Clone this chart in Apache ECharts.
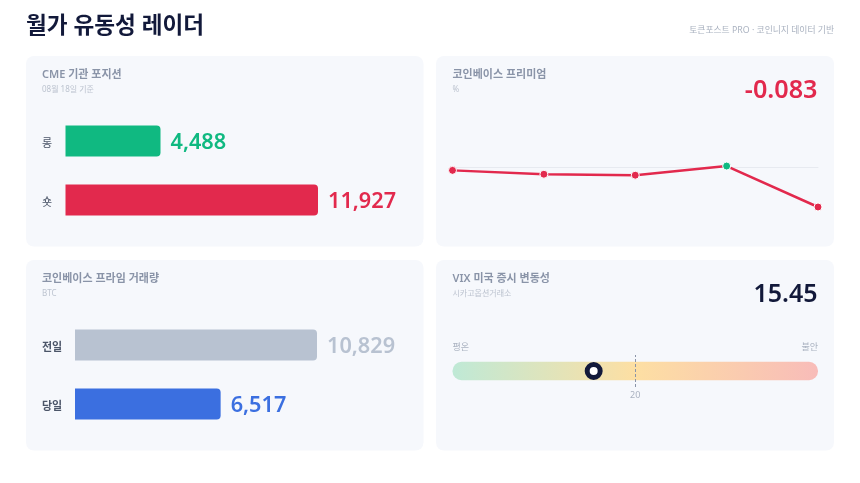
<!DOCTYPE html>
<html>
<head>
<meta charset="UTF-8">
<title>월가 유동성 레이더</title>
<style>
    html, body { margin: 0; padding: 0; background: #fff; }
    #chartArea { width: 860px; height: 483px; }
</style>
</head>
<body>
<div id="chartArea"></div>
<script src="https://cdn.jsdelivr.net/npm/echarts@6/dist/echarts.min.js"></script>
<script>
// data
var cmeLabels = ['롱', '숏'];
var cmeValues = [4488, 11927];
var primeLabels = ['전일', '당일'];
var primeValues = [10829, 6517];
var premiumDays = ['1', '2', '3', '4', '5'];
var premiumValues = [-0.007, -0.015, -0.017, 0.002, -0.083];
var vixValue = 15.45;
var vixMax = 40;
var vixTicks = [20];

var FONT = '"Noto Sans", "Noto Sans CJK KR", sans-serif';
var RED = '#e2294d', GREEN = '#10b981', BLUE = '#3b6fe0', SLATE = '#b8c2d1', DARK = '#12193a';

function card(x, y, w, h) {
    return { type: 'rect', z: -10, silent: true, shape: { x: x, y: y, width: w, height: h, r: 8 }, style: { fill: '#f6f8fc' } };
}
function txt(x, y, text, size, color, weight, align) {
    return {
        type: 'text', x: x, y: y, silent: true,
        style: { text: text, fontFamily: FONT, fontSize: size, fill: color, fontWeight: weight || 400, align: align || 'left', verticalAlign: 'middle' }
    };
}
function fmt(v) {
    return v.toLocaleString('en-US');
}

// horizontal bar panel, one grid + its axes + one series
function barParts(idx, labels, values, colors, left, top, width, labelSize, labelWeight) {
    return {
        grid: { left: left, top: top, width: width, height: 118 },
        xAxis: { gridIndex: idx, type: 'value', min: 0, max: Math.max.apply(null, values), show: false },
        yAxis: {
            gridIndex: idx, type: 'category', inverse: true, data: labels,
            axisLine: { show: false }, axisTick: { show: false },
            // top align + short line box pushes the label a bit under the bar centre
            axisLabel: { align: 'left', margin: left - 42, verticalAlign: 'top', lineHeight: 6, fontFamily: FONT, fontSize: labelSize, fontWeight: labelWeight, color: '#4b5568' }
        },
        series: {
            type: 'bar', xAxisIndex: idx, yAxisIndex: idx, barWidth: 31, silent: true,
            data: values.map(function (v, i) {
                return {
                    value: v,
                    itemStyle: { color: colors[i], borderRadius: [0, 4, 4, 0] },
                    label: { color: colors[i] }
                };
            }),
            label: {
                show: true, position: 'right', distance: 10, offset: [0, 1.5], fontFamily: FONT, fontSize: 21.7, fontWeight: 600,
                formatter: function (p) { return fmt(p.value); }
            }
        }
    };
}

var cme = barParts(0, cmeLabels, cmeValues, [GREEN, RED], 65.5, 111.5, 252.5, 11, 400);
var prime = barParts(1, primeLabels, primeValues, [SLATE, BLUE], 75, 315.5, 242, 11, 600);

var myChart = echarts.init(document.getElementById('chartArea'));
myChart.setOption({
    animation: false,
    backgroundColor: '#ffffff',
    graphic: [
        card(26, 56, 397.5, 190.5), card(436, 56, 398, 190.5),
        card(26, 260, 397.5, 190.5), card(436, 260, 398, 190.5),
        txt(26, 27, '월가 유동성 레이더', 22.6, '#12193a', 600),
        txt(834, 30.5, '토큰포스트 PRO · 코인니지 데이터 기반', 8.8, '#aab2c0', 400, 'right'),
        txt(42, 74.5, 'CME 기관 포지션', 11, '#8a94a8', 600),
        txt(42, 90, '08월 18일 기준', 8, '#bcc3cf'),
        txt(452.5, 74.5, '코인베이스 프리미엄', 11, '#8a94a8', 600),
        txt(452.5, 90, '%', 8, '#bcc3cf'),
        txt(817.5, 90.5, String(premiumValues[4]), 25.2, RED, 600, 'right'),
        txt(42, 278.5, '코인베이스 프라임 거래량', 11, '#8a94a8', 600),
        txt(42, 294, 'BTC', 8, '#bcc3cf'),
        txt(452.5, 278.5, 'VIX 미국 증시 변동성', 11, '#8a94a8', 600),
        txt(452.5, 294, '시카고옵션거래소', 8, '#bcc3cf'),
        txt(817.5, 294.5, String(vixValue), 25, DARK, 600, 'right'),
        txt(452.5, 347.5, '평온', 9, '#aab2c0'),
        txt(818, 347.5, '불안', 9, '#aab2c0', 400, 'right')
    ],
    grid: [
        cme.grid,
        prime.grid,
        { left: 452.5, top: 142.9, width: 365.5, height: 72.3 },
        { left: 452.5, top: 355, width: 365.5, height: 32 }
    ],
    xAxis: [
        cme.xAxis,
        prime.xAxis,
        {
            gridIndex: 2, type: 'category', boundaryGap: false, data: premiumDays,
            axisLine: { show: true, onZero: true, lineStyle: { color: '#e7eaf0', width: 1 } },
            axisTick: { show: false }, axisLabel: { show: false }
        },
        {
            gridIndex: 3, type: 'value', min: 0, max: vixMax,
            splitLine: { show: false }, axisLine: { show: false }, axisTick: { show: false },
            axisLabel: { customValues: vixTicks, margin: 4, fontFamily: FONT, fontSize: 9, color: '#aab2c0' }
        }
    ],
    yAxis: [
        cme.yAxis,
        prime.yAxis,
        { gridIndex: 2, type: 'value', min: -0.1, max: 0.05, show: false },
        { gridIndex: 3, type: 'category', data: ['VIX'], show: false }
    ],
    series: [
        cme.series,
        prime.series,
        {
            type: 'line', xAxisIndex: 2, yAxisIndex: 2, silent: true,
            symbol: 'circle', symbolSize: 8,
            lineStyle: { color: RED, width: 2.5 },
            data: premiumValues.map(function (v) {
                return { value: v, itemStyle: { color: v >= 0 ? GREEN : RED, borderColor: '#ffffff', borderWidth: 1 } };
            })
        },
        {
            type: 'bar', xAxisIndex: 3, yAxisIndex: 3, barWidth: 18.5, silent: true,
            data: [vixMax],
            itemStyle: {
                borderRadius: 9,
                color: new echarts.graphic.LinearGradient(0, 0, 1, 0, [
                    { offset: 0, color: '#bfe9d6' },
                    { offset: 0.5, color: '#fddfa3' },
                    { offset: 1, color: '#f8bcb9' }
                ])
            },
            markLine: {
                silent: true, symbol: 'none', label: { show: false },
                lineStyle: { color: '#8a94a8', type: [3, 2], width: 1 },
                data: [{ xAxis: vixTicks[0] }]
            }
        },
        {
            type: 'scatter', xAxisIndex: 3, yAxisIndex: 3, silent: true, z: 5,
            symbol: 'circle', symbolSize: 13,
            itemStyle: { color: '#ffffff', borderColor: DARK, borderWidth: 5, opacity: 1 },
            data: [[vixValue, 0]]
        }
    ]
});
</script>
</body>
</html>
